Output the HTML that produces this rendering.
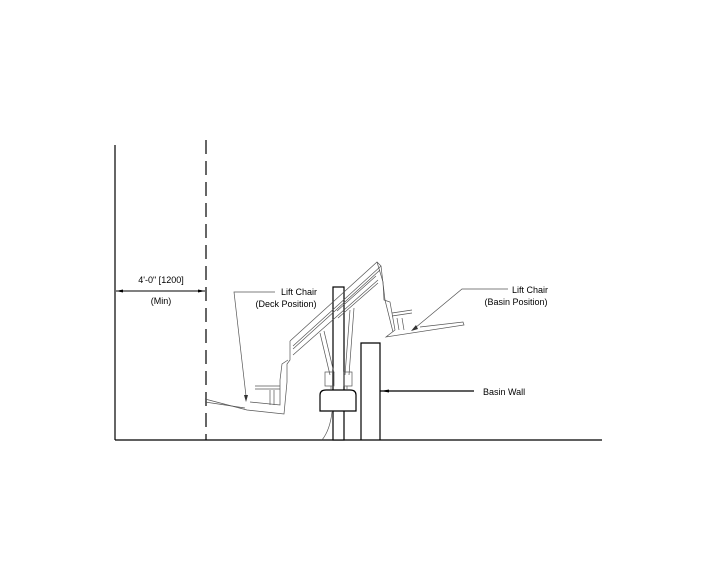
<!DOCTYPE html>
<html><head><style>
html,body{margin:0;padding:0;background:#fff;}
svg{display:block;}
text{font-family:"Liberation Sans",sans-serif;font-size:9px;fill:#000;}
</style></head><body>
<svg width="710" height="586" viewBox="0 0 710 586" xmlns="http://www.w3.org/2000/svg">
<g stroke="#000" stroke-width="1.2" fill="none">
  <line x1="115" y1="145" x2="115" y2="440"/>
  <line x1="115" y1="440" x2="602" y2="440"/>
  <line x1="206" y1="140" x2="206" y2="440" stroke-dasharray="14,7"/>
  <line x1="116" y1="291" x2="205" y2="291" stroke-width="0.9"/>
  <!-- post -->
  <rect x="333" y="287" width="11" height="153" fill="#fff"/>
  <!-- base box -->
  <path d="M320,411 L320,395 Q320,390 326,390 L350,390 Q356,390 356,395 L356,411 Z" fill="#fff"/>
  <!-- basin wall -->
  <path d="M361,440 L361,343 L380,343 L380,440"/>
  <line x1="380" y1="391" x2="474" y2="391"/>
</g>
<g fill="#000">
  <polygon points="116,291 123,289.5 123,292.5"/>
  <polygon points="205,291 198,289.5 198,292.5"/>
  <polygon points="381,391 389,389.5 389,392.5"/>
</g>
<!-- grey chairs -->
<g stroke="#555" stroke-width="0.7" fill="none">
  <!-- arm beams -->
  <path d="M290,341 L377,262 L381,266 L293,346"/>
  <path d="M293,349 L380,270 M293,355 L378,280"/>
  <path d="M337,311 L376,276 M338,318 L378,283"/>
  <!-- struts -->
  <path d="M320,333 L330,375 M324,331 L334,373"/>
  <path d="M350,310 L345,375 M354,308 L349,375"/>
  <rect x="325" y="372" width="9" height="14"/>
  <rect x="344" y="372" width="8" height="14"/>
  <path d="M331,386 L331,390 M347,386 L347,390"/>
  <!-- deck chair -->
  <path d="M290,341 L290,360 L287,364 L287,382 L284,414 L247,410 L205,399"/>
  <path d="M288,360 L282,364 L280,380 L280,405 L250,402"/>
  <path d="M255,386 L280,386 M255,389 L280,389"/>
  <path d="M270,390 L270,405 M274,390 L274,405"/>
  <path d="M205,402 L245,408"/>
  <!-- basin chair -->
  <path d="M377,262 L383,282 L384,300 L390,302 L395,330 L386,337 L464,325 L463,322 L420,327"/>
  <path d="M381,266 L385,300 L393,332"/>
  <path d="M392,313 L412,310 M392,316 L412,313"/>
  <path d="M397,318 L399,330 M402,318 L404,330"/>
  <!-- cord -->
  <path d="M332,412 Q330,430 322,440"/>
  <!-- leaders -->
  <path d="M275,292 L234,292 L246,396"/>
  <path d="M508,289 L462,289 L415,328"/>
</g>
<g fill="#333">
  <polygon points="246,402 244,395 248,395"/>
  <polygon points="411,331 416,325 418,329"/>
</g>
<text x="161" y="283" text-anchor="middle">4'-0" [1200]</text>
<text x="161" y="304" text-anchor="middle">(Min)</text>
<text x="299" y="295" text-anchor="middle">Lift Chair</text>
<text x="286" y="307" text-anchor="middle">(Deck Position)</text>
<text x="530" y="293" text-anchor="middle">Lift Chair</text>
<text x="516" y="305" text-anchor="middle">(Basin Position)</text>
<text x="483" y="395">Basin Wall</text>
</svg>
</body></html>
